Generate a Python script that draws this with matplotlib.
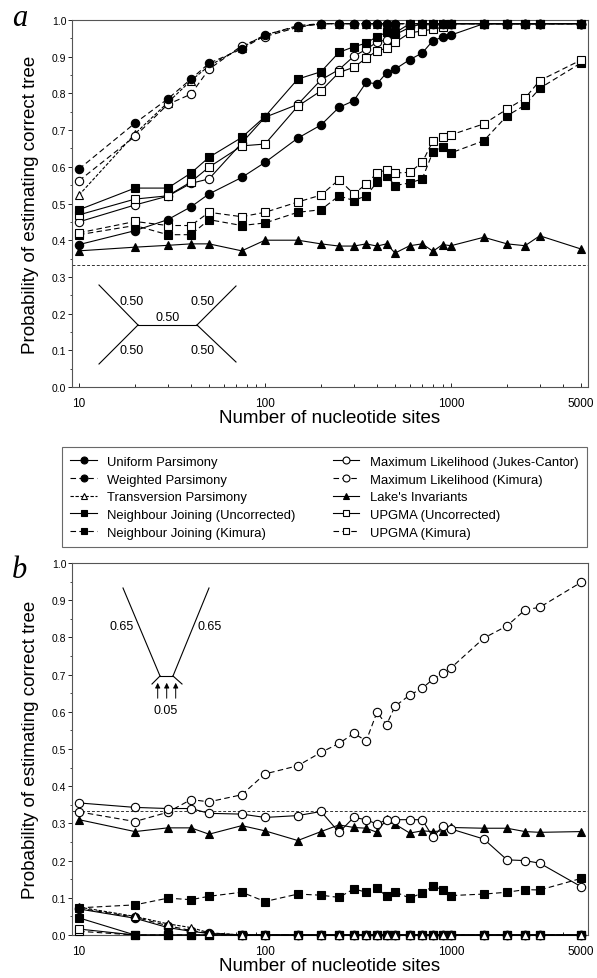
import matplotlib
matplotlib.use("Agg")

import matplotlib.pyplot as plt
from matplotlib.lines import Line2D
from matplotlib.patches import FancyArrowPatch

plt.rcParams["font.family"] = ["Liberation Sans", "DejaVu Sans"]

W, H = 597, 979

x_sites = [10, 20, 30, 40, 50, 75, 100, 150, 200, 250, 300, 350, 400, 450, 500,
           600, 700, 800, 900, 1000, 1500, 2000, 2500, 3000, 5000]

# panel a
a_uniform = [0.388, 0.426, 0.456, 0.491, 0.526, 0.571, 0.612, 0.678, 0.714, 0.762, 0.780, 0.830, 0.826,
             0.856, 0.866, 0.892, 0.910, 0.944, 0.953, 0.959, 0.990, 0.990, 0.990, 0.990, 0.990]
a_weighted = [0.594, 0.719, 0.785, 0.839, 0.882, 0.921, 0.958, 0.985, 0.990, 0.990, 0.990, 0.990, 0.990,
              0.990, 0.990, 0.990, 0.990, 0.990, 0.990, 0.990, 0.990, 0.990, 0.990, 0.990, 0.990]
a_transversion = [0.523, 0.690, 0.775, 0.835, 0.875, 0.925, 0.960, 0.982, 0.990, 0.990, 0.990, 0.990, 0.990,
                  0.990, 0.990, 0.990, 0.990, 0.990, 0.990, 0.990, 0.990, 0.990, 0.990, 0.990, 0.990]
a_nj_unc = [0.483, 0.542, 0.542, 0.583, 0.626, 0.680, 0.737, 0.839, 0.859, 0.912, 0.927, 0.937, 0.955,
            0.966, 0.965, 0.990, 0.990, 0.990, 0.990, 0.990, 0.990, 0.990, 0.990, 0.990, 0.990]
a_nj_kim = [0.415, 0.440, 0.415, 0.415, 0.456, 0.440, 0.447, 0.476, 0.483, 0.521, 0.508, 0.521, 0.558,
            0.576, 0.549, 0.556, 0.567, 0.641, 0.653, 0.638, 0.671, 0.739, 0.768, 0.814, 0.883]
a_ml_jc = [0.450, 0.496, 0.520, 0.555, 0.567, 0.665, 0.735, 0.770, 0.837, 0.865, 0.901, 0.920, 0.940,
           0.946, 0.960, 0.980, 0.990, 0.990, 0.990, 0.990, 0.990, 0.990, 0.990, 0.990, 0.990]
a_ml_kim = [0.562, 0.683, 0.770, 0.798, 0.866, 0.930, 0.955, 0.980, 0.990, 0.990, 0.990, 0.990, 0.990,
            0.990, 0.990, 0.990, 0.990, 0.990, 0.990, 0.990, 0.990, 0.990, 0.990, 0.990, 0.990]
a_lake = [0.371, 0.381, 0.386, 0.390, 0.390, 0.371, 0.400, 0.400, 0.390, 0.384, 0.384, 0.390, 0.384,
          0.390, 0.365, 0.385, 0.390, 0.370, 0.388, 0.385, 0.408, 0.390, 0.385, 0.412, 0.376]
a_upgma_unc = [0.469, 0.512, 0.521, 0.559, 0.599, 0.657, 0.662, 0.765, 0.807, 0.857, 0.871, 0.896, 0.916,
               0.923, 0.939, 0.965, 0.970, 0.975, 0.980, 0.990, 0.990, 0.990, 0.990, 0.990, 0.990]
a_upgma_kim = [0.420, 0.451, 0.440, 0.440, 0.476, 0.464, 0.476, 0.504, 0.523, 0.565, 0.526, 0.553, 0.583,
               0.592, 0.583, 0.585, 0.612, 0.671, 0.680, 0.687, 0.717, 0.757, 0.787, 0.835, 0.891]

# panel b
b_uniform = [0.070, 0.045, 0.020, 0.010, 0.004] + [0.0] * 20
b_weighted = [0.072, 0.048, 0.025, 0.012, 0.005] + [0.0] * 20
b_transversion = [0.075, 0.050, 0.030, 0.020, 0.006] + [0.0] * 20
b_nj_unc = [0.046] + [0.0] * 24
b_nj_kim = [0.073, 0.081, 0.099, 0.095, 0.104, 0.115, 0.090, 0.110, 0.107, 0.101, 0.124, 0.115, 0.126,
            0.104, 0.116, 0.099, 0.113, 0.131, 0.122, 0.106, 0.110, 0.115, 0.122, 0.121, 0.152]
b_ml_jc = [0.355, 0.343, 0.340, 0.340, 0.327, 0.325, 0.316, 0.321, 0.332, 0.276, 0.316, 0.310, 0.298,
           0.310, 0.310, 0.310, 0.310, 0.263, 0.292, 0.285, 0.258, 0.202, 0.200, 0.193, 0.130]
b_ml_kim = [0.331, 0.305, 0.330, 0.364, 0.358, 0.377, 0.433, 0.455, 0.491, 0.515, 0.542, 0.522, 0.599,
            0.565, 0.615, 0.645, 0.663, 0.688, 0.703, 0.718, 0.798, 0.831, 0.874, 0.881, 0.948]
b_lake = [0.310, 0.278, 0.288, 0.288, 0.271, 0.294, 0.280, 0.254, 0.278, 0.296, 0.289, 0.287, 0.276,
          0.312, 0.298, 0.274, 0.280, 0.278, 0.280, 0.289, 0.287, 0.287, 0.278, 0.276, 0.278]
b_upgma_unc = [0.016] + [0.0] * 24
b_upgma_kim = [0.010] + [0.0] * 24

names = ["Uniform Parsimony", "Weighted Parsimony", "Transversion Parsimony",
         "Neighbour Joining (Uncorrected)", "Neighbour Joining (Kimura)",
         "Maximum Likelihood (Jukes-Cantor)", "Maximum Likelihood (Kimura)",
         "Lake's Invariants", "UPGMA (Uncorrected)", "UPGMA (Kimura)"]

DASH = (0, (5, 3))
styles = {
    "Uniform Parsimony": dict(marker="o", mfc="black", ls="-"),
    "Weighted Parsimony": dict(marker="o", mfc="black", ls=DASH),
    "Transversion Parsimony": dict(marker="^", mfc="white", ls=(0, (3, 1.5))),
    "Neighbour Joining (Uncorrected)": dict(marker="s", mfc="black", ls="-"),
    "Neighbour Joining (Kimura)": dict(marker="s", mfc="black", ls=DASH),
    "Maximum Likelihood (Jukes-Cantor)": dict(marker="o", mfc="white", ls="-"),
    "Maximum Likelihood (Kimura)": dict(marker="o", mfc="white", ls=DASH),
    "Lake's Invariants": dict(marker="^", mfc="black", ls="-"),
    "UPGMA (Uncorrected)": dict(marker="s", mfc="white", ls="-"),
    "UPGMA (Kimura)": dict(marker="s", mfc="white", ls=DASH),
}

panel_a = [a_uniform, a_weighted, a_transversion, a_nj_unc, a_nj_kim,
           a_ml_jc, a_ml_kim, a_lake, a_upgma_unc, a_upgma_kim]
panel_b = [b_uniform, b_weighted, b_transversion, b_nj_unc, b_nj_kim,
           b_ml_jc, b_ml_kim, b_lake, b_upgma_unc, b_upgma_kim]

# draw order: background series first
draw_order_a = [7, 4, 9, 0, 5, 8, 3, 2, 6, 1]
draw_order_b = [9, 8, 3, 0, 1, 2, 4, 7, 6, 5]


def fp(x, y):
    return x / W, 1 - y / H


def style_axes(ax):
    ax.set_xscale("log")
    ax.set_xlim(9.17, 5450)
    ax.set_ylim(0, 1.0)
    ax.set_xticks([10, 100, 1000, 5000])
    ax.set_xticklabels(["10", "100", "1000", "5000"])
    ax.set_yticks([i / 10 for i in range(11)])
    ax.set_yticklabels([f"{i / 10:.1f}" for i in range(11)])
    ax.set_yticks([i / 20 for i in range(1, 20, 2)], minor=True)
    ax.tick_params(axis="x", which="both", direction="in", labelsize=8.5, pad=7, length=3, width=0.6)
    ax.tick_params(axis="x", which="minor", length=2)
    ax.tick_params(axis="y", which="major", direction="out", labelsize=7.5, length=3, width=0.6, pad=1)
    ax.tick_params(axis="y", which="minor", direction="out", length=1.5, width=0.5)
    for s in ax.spines.values():
        s.set_linewidth(0.8)
        s.set_color("#555555")
    ax.axhline(1 / 3, color="#333333", lw=0.7, ls=(0, (3, 2)), zorder=1)
    ax.set_ylabel("Probability of estimating correct tree", fontsize=13.5, labelpad=9)
    ax.set_xlabel("Number of nucleotide sites", fontsize=13.5, labelpad=0)


def plot_panel(ax, data, order):
    for i in order:
        st = styles[names[i]]
        ax.plot(x_sites, data[i], color="black", lw=0.8, ls=st["ls"], marker=st["marker"],
                mfc=st["mfc"], mec="black", ms=6, mew=0.8, clip_on=False, zorder=3)


fig = plt.figure(figsize=(W / 100, H / 100), dpi=100)
ax_a = fig.add_axes([72 / W, 1 - 388 / H, 516 / W, 367 / H])
ax_b = fig.add_axes([72 / W, 1 - 936 / H, 516 / W, 372 / H])

plot_panel(ax_a, panel_a, draw_order_a)
plot_panel(ax_b, panel_b, draw_order_b)
style_axes(ax_a)
style_axes(ax_b)

fig.text(*fp(12, 18), "a", fontsize=22, style="italic", family="Liberation Serif", va="center")
fig.text(*fp(12, 570), "b", fontsize=22, style="italic", family="Liberation Serif", va="center")

# tree inset, panel a
tree_a = [((99, 286), (138, 326)), ((138, 326), (197, 326)), ((197, 326), (236, 287)),
          ((138, 326), (99, 365)), ((197, 326), (236, 363))]
for p0, p1 in tree_a:
    x0, y0 = fp(*p0)
    x1, y1 = fp(*p1)
    fig.add_artist(Line2D([x0, x1], [y0, y1], color="black", lw=0.8))
for (tx, ty) in [(132, 302), (203, 302), (168, 318), (132, 351), (203, 351)]:
    fig.text(*fp(tx, ty), "0.50", fontsize=9, ha="center", va="center")

# tree inset, panel b
tree_b = [((123, 589), (160, 677)), ((160, 677), (173, 677)), ((173, 677), (209, 589)),
          ((160, 677), (152, 685)), ((173, 677), (182, 685))]
for p0, p1 in tree_b:
    x0, y0 = fp(*p0)
    x1, y1 = fp(*p1)
    fig.add_artist(Line2D([x0, x1], [y0, y1], color="black", lw=0.8))
for arr_x in [157.7, 166.7, 175.7]:
    fig.add_artist(FancyArrowPatch(fp(arr_x, 702), fp(arr_x, 681),
                                   arrowstyle="-|>,head_length=3,head_width=1.5",
                                   lw=0.7, color="black", transform=fig.transFigure))
fig.text(*fp(122, 627), "0.65", fontsize=9, ha="center", va="center")
fig.text(*fp(210, 627), "0.65", fontsize=9, ha="center", va="center")
fig.text(*fp(166, 711), "0.05", fontsize=9, ha="center", va="center")

# legend
handles = []
for n in names:
    st = styles[n]
    handles.append(Line2D([], [], color="black", lw=0.8, ls=st["ls"], marker=st["marker"],
                          mfc=st["mfc"], mec="black", ms=5, mew=0.8))
x0, y0 = fp(62, 548)
x1, y1 = fp(587, 452)
leg = fig.legend(handles, names, loc="lower left", bbox_to_anchor=(x0, y0, x1 - x0, y1 - y0),
                 mode="expand", ncol=2, fontsize=9.4, frameon=True, fancybox=False,
                 edgecolor="#444444", handlelength=2.0, handletextpad=0.8, labelspacing=0.42,
                 borderpad=0.65, columnspacing=0.3, borderaxespad=0)
leg.get_frame().set_linewidth(0.8)

fig.savefig("out.png", dpi=100)
